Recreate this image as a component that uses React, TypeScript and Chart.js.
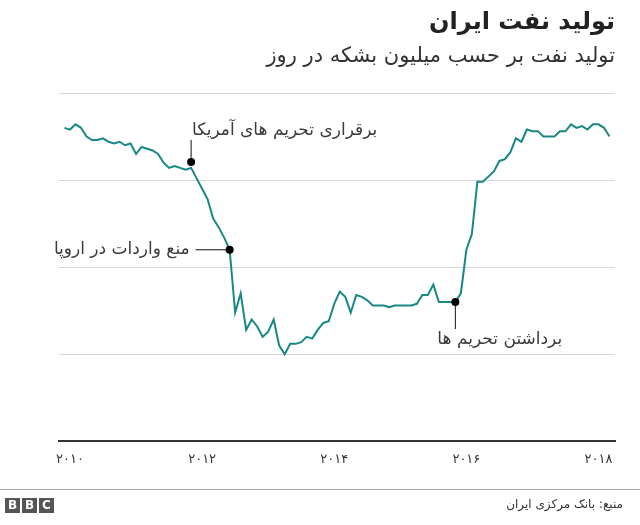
import React, { useEffect, useRef } from 'react';
import { Chart, registerables } from 'chart.js';

Chart.register(...registerables);

// ---- Data ----
const titleText = 'تولید نفت ایران';
const subtitleText = 'تولید نفت بر حسب میلیون بشکه در روز';
const sourceText = 'منبع: بانک مرکزی ایران';

const startYear = 2009;
const startMonth = 12; // first monthly observation: Dec 2009

// Oil production, million barrels per day (monthly)
const production = [
  3.80, 3.79, 3.82, 3.80, 3.75, 3.73, 3.73, 3.74, 3.72, 3.71,
  3.72, 3.70, 3.71, 3.65, 3.69, 3.68, 3.67, 3.65, 3.60, 3.57,
  3.58, 3.57, 3.56, 3.57, 3.51, 3.45, 3.39, 3.28, 3.23, 3.17,
  3.10, 2.74, 2.85, 2.64, 2.70, 2.66, 2.60, 2.63, 2.70, 2.55,
  2.50, 2.56, 2.56, 2.57, 2.60, 2.59, 2.64, 2.68, 2.69, 2.79,
  2.86, 2.83, 2.74, 2.84, 2.83, 2.81, 2.78, 2.78, 2.78, 2.77,
  2.78, 2.78, 2.78, 2.78, 2.79, 2.84, 2.84, 2.90, 2.80, 2.80,
  2.80, 2.80, 2.85, 3.10, 3.19, 3.49, 3.49, 3.52, 3.55, 3.61,
  3.62, 3.66, 3.74, 3.72, 3.79, 3.78, 3.78, 3.75, 3.75, 3.75,
  3.78, 3.78, 3.82, 3.80, 3.81, 3.79, 3.82, 3.82, 3.80, 3.75,
];

const tickYears = [2010, 2012, 2014, 2016, 2018];
const tickLabels = ['۲۰۱۰', '۲۰۱۲', '۲۰۱۴', '۲۰۱۶', '۲۰۱۸'];

const yMin = 2;
const yMax = 4;
const yStep = 0.5;

// Annotations: month index into production, and text
const noteIndices = [23, 30, 71];
const noteTexts = ['برقراری تحریم های آمریکا', 'منع واردات در اروپا', 'برداشتن تحریم ها'];

const FONT = '"DejaVu Sans", "Noto Sans", sans-serif';

export default function App() {
  const canvasRef = useRef<HTMLCanvasElement | null>(null);

  useEffect(() => {
    document.body.style.margin = '0';
    const canvas = canvasRef.current;
    if (!canvas) return;

    const xs = production.map((_, i) => startYear + (startMonth - 1) / 12 + i / 12);
    const points = production.map((v, i) => ({ x: xs[i], y: v }));

    const notesPlugin = {
      id: 'notes',
      afterDatasetsDraw(chart: any) {
        const { ctx } = chart;
        const xs2 = chart.scales.x;
        const ys2 = chart.scales.y;
        ctx.save();
        ctx.font = `17px ${FONT}`;
        ctx.fillStyle = '#3a3a3a';
        ctx.strokeStyle = '#111';
        ctx.lineWidth = 1;
        noteIndices.forEach((idx, k) => {
          const px = xs2.getPixelForValue(xs[idx]);
          let py = ys2.getPixelForValue(production[idx]);
          ctx.beginPath();
          if (k === 0) {
            py -= 6;
            ctx.moveTo(px, py);
            ctx.lineTo(px, py - 22);
            ctx.stroke();
            ctx.textAlign = 'left';
            ctx.textBaseline = 'middle';
            ctx.fillText(noteTexts[k], px + 1, py - 31);
          } else if (k === 1) {
            ctx.moveTo(px, py);
            ctx.lineTo(px - 34, py);
            ctx.stroke();
            ctx.textAlign = 'right';
            ctx.textBaseline = 'middle';
            ctx.fillText(noteTexts[k], px - 40, py);
          } else {
            ctx.moveTo(px, py);
            ctx.lineTo(px, py + 27);
            ctx.stroke();
            ctx.textAlign = 'left';
            ctx.textBaseline = 'middle';
            ctx.fillText(noteTexts[k], px - 18, py + 38);
          }
          ctx.beginPath();
          ctx.fillStyle = '#000';
          ctx.arc(px, py, 4, 0, Math.PI * 2);
          ctx.fill();
          ctx.fillStyle = '#3a3a3a';
        });
        ctx.restore();
      },
    };

    const chart = new Chart(canvas, {
      type: 'line',
      data: {
        datasets: [
          {
            data: points,
            borderColor: '#178884',
            borderWidth: 2,
            pointRadius: 0,
            tension: 0,
            fill: false,
          },
        ],
      },
      options: {
        responsive: false,
        animation: false,
        layout: { padding: { left: 59, right: 25, top: 93, bottom: 48 } },
        plugins: {
          legend: { display: false },
          tooltip: { enabled: false },
          title: { display: false },
        },
        scales: {
          x: {
            type: 'linear',
            min: xs[0] - 1 / 12,
            max: xs[xs.length - 1] + 1 / 12,
            grid: { display: false, drawTicks: false },
            border: { display: true, color: '#333', width: 2 },
            afterBuildTicks: (axis: any) => {
              axis.ticks = tickYears.map((v) => ({ value: v }));
            },
            ticks: {
              padding: 10,
              color: '#333',
              font: { family: FONT, size: 13 },
              maxRotation: 0,
              autoSkip: false,
              callback: (v: any) => {
                const i = tickYears.indexOf(Number(v));
                return i >= 0 ? tickLabels[i] : '';
              },
            },
          },
          y: {
            min: yMin,
            max: yMax,
            ticks: { display: false, stepSize: yStep },
            grid: { color: '#d6d6d6', lineWidth: 1, drawTicks: false },
            border: { display: false },
          },
        },
      },
      plugins: [notesPlugin],
    });

    return () => chart.destroy();
  }, []);

  return (
    <div style={{ position: 'relative', width: 640, height: 525, overflow: 'hidden', background: '#fff' }}>
      <canvas ref={canvasRef} width={640} height={525} style={{ position: 'absolute', left: 0, top: 0 }} />
      <div
        dir="rtl"
        style={{
          position: 'absolute', right: 25, top: 7, fontFamily: FONT, fontWeight: 'bold',
          fontSize: 24, color: '#222', whiteSpace: 'nowrap',
        }}
      >
        {titleText}
      </div>
      <div
        dir="rtl"
        style={{
          position: 'absolute', right: 25, top: 43, fontFamily: FONT,
          fontSize: 21, color: '#333', whiteSpace: 'nowrap',
        }}
      >
        {subtitleText}
      </div>
      <div style={{ position: 'absolute', left: 0, top: 489, width: 640, height: 1, background: '#a8a8a8' }} />
      <div style={{ position: 'absolute', left: 5, top: 498, display: 'flex', gap: 2 }}>
        {['B', 'B', 'C'].map((c, i) => (
          <div
            key={i}
            style={{
              width: 15, height: 15, background: '#555', color: '#fff', fontFamily: FONT,
              fontWeight: 'bold', fontSize: 12, lineHeight: '15px', textAlign: 'center',
            }}
          >
            {c}
          </div>
        ))}
      </div>
      <div
        dir="rtl"
        style={{
          position: 'absolute', right: 17, top: 497, fontFamily: FONT,
          fontSize: 12, color: '#333', whiteSpace: 'nowrap',
        }}
      >
        {sourceText}
      </div>
    </div>
  );
}
